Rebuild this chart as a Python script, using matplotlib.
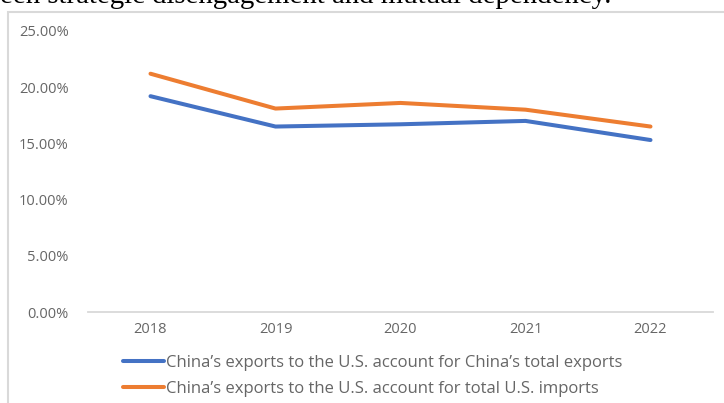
import matplotlib
matplotlib.use("Agg")
import matplotlib.pyplot as plt
from matplotlib.patches import Rectangle
from matplotlib.ticker import FuncFormatter

years = ["2018", "2019", "2020", "2021", "2022"]
share_china_exports = [19.2, 16.5, 16.7, 17.0, 15.3]
share_us_imports = [21.2, 18.1, 18.6, 18.0, 16.5]
label_blue = "China\u2019s exports to the U.S. account for China\u2019s total exports"
label_orange = "China\u2019s exports to the U.S. account for total U.S. imports"
heading = "een strategic disengagement and mutual dependency."
y_ticks = [0, 5, 10, 15, 20, 25]

W, H = 724, 403
FONT = "Open Sans"
GRAY = "#666666"
fig = plt.figure(figsize=(W / 100, H / 100), dpi=100)

# frame of the chart area (extends beyond right/bottom edges)
fig.patches.append(Rectangle((8 / W, -0.1), 1.2, 1 - 11.5 / H + 0.1,
                             transform=fig.transFigure, fill=False,
                             edgecolor="#d9d9d9", linewidth=1.5))

fig.text(0.0, 1 - 3 / H, heading, family="Liberation Serif", fontsize=20.8,
         color="black", ha="left", va="baseline")

ax = fig.add_axes([88 / W, 1 - 312 / H, (713 - 88) / W, (312 - 31) / H])
x = list(range(len(years)))
ax.plot(x, share_china_exports, color="#4472C4", linewidth=2.9,
        solid_capstyle="round", label=label_blue)
ax.plot(x, share_us_imports, color="#ED7D31", linewidth=2.9,
        solid_capstyle="round", label=label_orange)

ax.set_xlim(-0.5, len(years) - 0.5)
ax.set_ylim(0, 25)
ax.set_yticks(y_ticks)
ax.yaxis.set_major_formatter(FuncFormatter(lambda v, p: f"{v:.2f}%"))
ax.set_xticks(x)
ax.set_xticklabels(years)
for s in ["top", "right", "left"]:
    ax.spines[s].set_visible(False)
ax.spines["bottom"].set_color("#d9d9d9")
ax.spines["bottom"].set_linewidth(1.3)
ax.tick_params(axis="both", length=0, colors=GRAY, labelsize=10.5)
ax.tick_params(axis="y", pad=14)
ax.tick_params(axis="x", pad=7)
for lab in ax.get_xticklabels() + ax.get_yticklabels():
    lab.set_family(FONT)

leg = fig.legend(loc="upper left", bbox_to_anchor=(123 / W, 1 - 355 / H),
                 frameon=False, prop={"family": FONT, "size": 12},
                 handlelength=2.45, handletextpad=0.1, labelspacing=0.6,
                 borderpad=0, borderaxespad=0)
for t in leg.get_texts():
    t.set_color(GRAY)

fig.savefig("out.png", dpi=100)
